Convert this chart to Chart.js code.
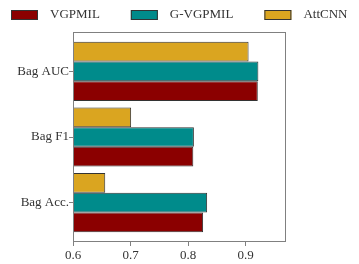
<!DOCTYPE html>
<html>
<head>
<meta charset="utf-8">
<script src="https://cdn.jsdelivr.net/npm/chart.js@4.4.1/dist/chart.umd.min.js"></script>
<style>
  html, body { margin: 0; padding: 0; background: #fff; }
  #wrap { width: 359px; height: 264px; }
</style>
</head>
<body>
<div id="wrap"><canvas id="chart"></canvas></div>
<script>
// categories, top to bottom
const categories = ['Bag AUC', 'Bag F1', 'Bag Acc.'];
// scores per method
const vgpmil = [0.921, 0.809, 0.826];
const gvgpmil = [0.922, 0.810, 0.833];
const attcnn = [0.905, 0.701, 0.656];
const xTicks = [0.6, 0.7, 0.8, 0.9];

const FONT = { family: "'Liberation Serif', 'DejaVu Serif', serif", size: 13 };
const toPoints = arr => arr.map((v, i) => ({ x: v, y: i }));

// matplotlib-style box around the axes
const framePlugin = {
    id: 'frame',
    afterDatasetsDraw(chart) {
        const a = chart.chartArea;
        const ctx = chart.ctx;
        ctx.save();
        ctx.strokeStyle = '#808080';
        ctx.lineWidth = 1;
        ctx.strokeRect(Math.round(a.left) + 0.5, Math.round(a.top) + 0.5,
            Math.round(a.right - a.left) - 1, Math.round(a.bottom - a.top) - 1);
        ctx.restore();
    }
};

// single-row legend above the plot, wider spacing than the built-in one allows
const legendRow = {
    id: 'legendRow',
    afterDraw(chart) {
        const ctx = chart.ctx;
        const items = chart.data.datasets.slice().reverse();
        const boxW = 27, boxH = 10, boxGap = 12, itemGap = 31, midY = 15;
        ctx.save();
        ctx.font = FONT.size + 'px ' + FONT.family;
        const widths = items.map(d => ctx.measureText(d.label).width);
        const total = widths.reduce((s, w) => s + w + boxW + boxGap, 0) + itemGap * (items.length - 1);
        let x = Math.round((chart.width - total) / 2);
        items.forEach((d, i) => {
            ctx.fillStyle = d.backgroundColor;
            ctx.fillRect(x, midY - boxH / 2, boxW, boxH);
            ctx.strokeStyle = '#333';
            ctx.lineWidth = 1;
            ctx.strokeRect(x + 0.5, midY - boxH / 2 + 0.5, boxW - 1, boxH - 1);
            ctx.fillStyle = '#333';
            ctx.textBaseline = 'middle';
            ctx.fillText(d.label, x + boxW + boxGap, midY);
            x += boxW + boxGap + widths[i] + itemGap;
        });
        ctx.restore();
    }
};

new Chart(document.getElementById('chart').getContext('2d'), {
    type: 'bar',
    data: {
        datasets: [
            { label: 'AttCNN', data: toPoints(attcnn), backgroundColor: '#DAA520' },
            { label: 'G-VGPMIL', data: toPoints(gvgpmil), backgroundColor: '#008B8B' },
            { label: 'VGPMIL', data: toPoints(vgpmil), backgroundColor: '#8B0000' }
        ]
    },
    options: {
        indexAxis: 'y',
        responsive: true,
        maintainAspectRatio: false,
        animation: false,
        datasets: {
            bar: {
                categoryPercentage: 0.9,
                barPercentage: 1.0,
                borderColor: '#333',
                borderWidth: 1,
                borderSkipped: false
            }
        },
        layout: { padding: { top: 32, right: 73, bottom: 0, left: 0 } },
        scales: {
            x: {
                type: 'linear',
                min: 0.6,
                max: 0.97,
                border: { display: false },
                grid: { drawOnChartArea: false, tickLength: 4, color: '#808080' },
                afterBuildTicks: s => { s.ticks = xTicks.map(v => ({ value: v })); },
                afterFit: s => { s.height = 22; },
                ticks: {
                    font: FONT,
                    color: '#333',
                    padding: 2,
                    maxRotation: 0,
                    callback: v => v.toFixed(1)
                }
            },
            y: {
                type: 'linear',
                reverse: true,
                offset: false,
                min: -0.6,
                max: 2.6,
                border: { display: false },
                grid: { offset: false, drawOnChartArea: false, tickLength: 4, color: '#808080' },
                afterBuildTicks: s => { s.ticks = categories.map((c, i) => ({ value: i })); },
                afterFit: s => { s.width = 73; },
                ticks: {
                    font: FONT,
                    color: '#333',
                    padding: 0,
                    callback: v => categories[v]
                }
            }
        },
        plugins: {
            tooltip: { enabled: false },
            legend: { display: false }
        }
    },
    plugins: [framePlugin, legendRow]
});
</script>
</body>
</html>
